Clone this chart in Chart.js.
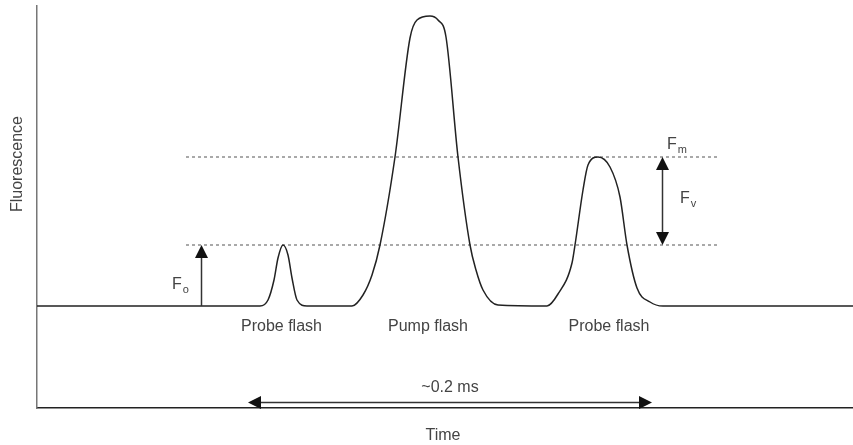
<!DOCTYPE html>
<html>
<head>
<meta charset="utf-8">
<script src="https://cdn.jsdelivr.net/npm/chart.js@4.4.1/dist/chart.umd.min.js"></script>
<style>
	html, body { margin: 0; padding: 0; background: #ffffff; }
	#wrap { width: 853px; height: 445px; }
</style>
</head>
<body>
<div id="wrap"><canvas id="fluorChart" width="853" height="445"></canvas></div>
<script>
// 시간 축: µs, 형광 축: 임의 단위
const curveTime = [0, 111.5, 115.5, 118.5, 120.5, 123, 125.5, 127.5, 130, 135,
	157.5, 163, 167.5, 171.5, 179, 186.5, 190, 196.5, 200.5, 204.5, 210.5, 216.5, 219.5, 223, 230.5,
	255, 260.5, 267.5, 269, 273, 275.5, 280.5, 286.5, 291.5, 295, 300, 306.5, 313, 408];
const curveSignal = [25.5, 25.5, 27, 32, 37.5, 40.75, 38.25, 32.5, 27, 25.5,
	25.5, 28.25, 33.25, 40.75, 62.75, 92.5, 97, 98, 97, 92.75, 62.75, 40.75, 34.5, 29.5, 25.75,
	25.5, 28.5, 36.25, 40.75, 54.5, 60.75, 62.75, 60.25, 52.75, 40.75, 30, 26.5, 25.5, 25.5];

const baseLevel = 25.5;   // 바닥선
const foLevel = 40.75;    // Fo
const fmLevel = 62.75;    // Fm
const refLineRange = [74.5, 341.5];

const flashNames = ['Probe flash', 'Pump flash', 'Probe flash'];
const flashTimes = [122.25, 195.5, 286];

const foArrowTime = 82;
const fvArrowTime = 312.5;
const spanArrow = [105.5, 307.5];   // ~0.2 ms 구간
const spanArrowLevel = 1.5;
const spanLabel = '~0.2 ms';

const xTitle = 'Time';
const yTitle = 'Fluorescence';

const FONT = '"Liberation Sans", Arial, sans-serif';
const TEXT_COLOR = '#444';

// 화살촉 (채워진 삼각형), tip 좌표 기준
function drawHead(ctx, x, y, dir) {
	const len = 13, half = 6.5;
	ctx.beginPath();
	if (dir === 'up') { ctx.moveTo(x, y); ctx.lineTo(x - half, y + len); ctx.lineTo(x + half, y + len); }
	if (dir === 'down') { ctx.moveTo(x, y); ctx.lineTo(x - half, y - len); ctx.lineTo(x + half, y - len); }
	if (dir === 'left') { ctx.moveTo(x, y); ctx.lineTo(x + len, y - half); ctx.lineTo(x + len, y + half); }
	if (dir === 'right') { ctx.moveTo(x, y); ctx.lineTo(x - len, y - half); ctx.lineTo(x - len, y + half); }
	ctx.closePath();
	ctx.fill();
}

// F + 아래첨자
function drawSubLabel(ctx, main, sub, x, y) {
	ctx.font = '16px ' + FONT;
	ctx.textAlign = 'left';
	ctx.textBaseline = 'alphabetic';
	ctx.fillText(main, x, y);
	const w = ctx.measureText(main).width;
	ctx.font = '11px ' + FONT;
	ctx.fillText(sub, x + w + 1, y + 4);
}

const annotations = {
	id: 'annotations',
	afterDatasetsDraw(chart) {
		const ctx = chart.ctx;
		const xs = chart.scales.x, ys = chart.scales.y;
		const px = v => xs.getPixelForValue(v);
		const py = v => ys.getPixelForValue(v);

		ctx.save();
		ctx.strokeStyle = '#333';
		ctx.fillStyle = '#111';
		ctx.lineWidth = 1.5;

		// Fo 화살표
		let ax = Math.round(px(foArrowTime)) + 0.5;
		ctx.beginPath();
		ctx.moveTo(ax, py(baseLevel));
		ctx.lineTo(ax, py(foLevel) + 8);
		ctx.stroke();
		drawHead(ctx, ax, py(foLevel), 'up');

		// Fv 양방향 화살표
		ax = Math.round(px(fvArrowTime)) + 0.5;
		ctx.beginPath();
		ctx.moveTo(ax, py(fmLevel) + 8);
		ctx.lineTo(ax, py(foLevel) - 8);
		ctx.stroke();
		drawHead(ctx, ax, py(fmLevel), 'up');
		drawHead(ctx, ax, py(foLevel), 'down');

		// 시간 구간 화살표
		const ay = Math.round(py(spanArrowLevel)) + 0.5;
		ctx.beginPath();
		ctx.moveTo(px(spanArrow[0]) + 8, ay);
		ctx.lineTo(px(spanArrow[1]) - 8, ay);
		ctx.stroke();
		drawHead(ctx, px(spanArrow[0]), ay, 'left');
		drawHead(ctx, px(spanArrow[1]), ay, 'right');

		// 텍스트
		ctx.fillStyle = TEXT_COLOR;
		ctx.font = '16px ' + FONT;
		ctx.textAlign = 'center';
		ctx.textBaseline = 'middle';
		flashNames.forEach((name, i) => {
			ctx.fillText(name, px(flashTimes[i]), py(baseLevel) + 21);
		});
		ctx.fillText(spanLabel, px((spanArrow[0] + spanArrow[1]) / 2), ay - 15);
		ctx.fillText(xTitle, (xs.left + xs.right) / 2 - 2, chart.chartArea.bottom + 28);

		ctx.save();
		ctx.translate(18, py(61));
		ctx.rotate(-Math.PI / 2);
		ctx.fillText(yTitle, 0, 0);
		ctx.restore();

		drawSubLabel(ctx, 'F', 'o', px(foArrowTime) - 29, (py(baseLevel) + py(foLevel)) / 2 + 13);
		drawSubLabel(ctx, 'F', 'v', px(fvArrowTime) + 18, (py(fmLevel) + py(foLevel)) / 2 + 2);
		drawSubLabel(ctx, 'F', 'm', px(fvArrowTime) + 5, py(fmLevel) - 8);

		ctx.restore();
	}
};

const toPoints = (xsArr, ysArr) => xsArr.map((x, i) => ({ x: x, y: ysArr[i] }));
const refLine = level => refLineRange.map(x => ({ x: x, y: level }));

new Chart(document.getElementById('fluorChart'), {
	type: 'line',
	data: {
		datasets: [
			{
				data: toPoints(curveTime, curveSignal),
				borderColor: '#222',
				borderWidth: 1.5,
				pointRadius: 0,
				cubicInterpolationMode: 'monotone',
				fill: false
			},
			{
				data: refLine(fmLevel),
				borderColor: '#555',
				borderWidth: 1,
				borderDash: [3, 3],
				pointRadius: 0
			},
			{
				data: refLine(foLevel),
				borderColor: '#555',
				borderWidth: 1,
				borderDash: [3, 3],
				pointRadius: 0
			}
		]
	},
	options: {
		responsive: false,
		animation: false,
		events: [],
		layout: { padding: { left: 37, top: 6, right: 0, bottom: 37 } },
		plugins: { legend: { display: false }, tooltip: { enabled: false } },
		scales: {
			x: {
				type: 'linear', min: 0, max: 408,
				grid: { display: false, drawTicks: false },
				ticks: { display: false },
				border: { display: true, color: '#222', width: 1.5 }
			},
			y: {
				type: 'linear', min: 0, max: 100.5,
				grid: { display: false, drawTicks: false },
				ticks: { display: false },
				border: { display: true, color: '#777', width: 1.5 }
			}
		}
	},
	plugins: [annotations]
});
</script>
</body>
</html>
